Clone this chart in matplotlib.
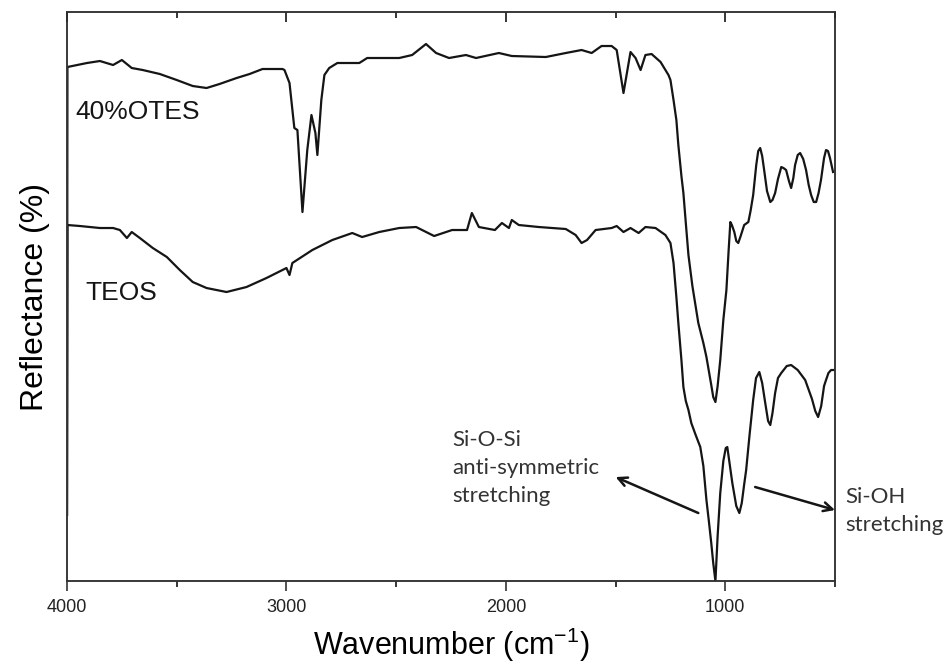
import numpy as np
import matplotlib.pyplot as plt

# ============================================================
# DATA
# ============================================================

otes_wn = [4000, 3998, 3909, 3850, 3790, 3750, 3705, 3655, 3577, 3500, 3427,
           3364, 3305, 3227, 3168, 3109, 3018, 3009, 2986, 2964, 2950, 2927,
           2905, 2886, 2868, 2859, 2841, 2827, 2805, 2768, 2668, 2632, 2532,
           2486, 2427, 2364, 2318, 2259, 2182, 2136, 2032, 1973, 1818, 1727,
           1655, 1609, 1564, 1518, 1495, 1464, 1432, 1409, 1386, 1364, 1336,
           1295, 1259, 1250, 1236, 1223, 1214, 1200, 1191, 1180, 1168, 1150,
           1123, 1100, 1086, 1064, 1055, 1045, 1035, 1023, 1009, 995, 985,
           977, 970, 959, 950, 941, 930, 914, 895, 885, 873, 859, 850, 841,
           832, 823, 810, 795, 785, 773, 760, 745, 735, 723, 710, 700, 690,
           682, 670, 659, 645, 632, 620, 609, 597, 586, 575, 564, 550, 541,
           532, 523, 509]
otes_refl = [6.6, 51.4, 51.8, 52.0, 51.6, 52.1, 51.3, 51.1, 50.7, 50.1, 49.5,
             49.3, 49.7, 50.3, 50.7, 51.2, 51.2, 51.1, 49.8, 45.3, 45.1, 36.9,
             43.1, 46.6, 44.8, 42.6, 48.1, 50.6, 51.3, 51.8, 51.8, 52.3, 52.3,
             52.3, 52.6, 53.7, 52.8, 52.3, 52.6, 52.3, 52.8, 52.5, 52.4, 52.8,
             53.1, 52.8, 53.5, 53.5, 53.1, 48.8, 52.9, 52.3, 51.1, 52.6, 52.7,
             51.9, 50.6, 50.1, 48.1, 46.1, 43.6, 40.5, 38.8, 35.8, 32.6, 29.5,
             25.8, 23.8, 22.4, 19.6, 18.4, 17.9, 19.5, 22.1, 26.1, 29.1, 33.0,
             35.9, 35.6, 34.9, 34.0, 33.8, 34.5, 35.6, 35.9, 37.0, 38.6, 41.6,
             43.0, 43.3, 42.5, 41.1, 39.0, 37.9, 38.1, 38.8, 40.2, 41.4, 41.3,
             41.1, 40.0, 39.3, 40.3, 41.6, 42.6, 42.8, 42.2, 41.1, 39.6, 38.6,
             37.9, 37.9, 38.8, 40.1, 42.3, 43.1, 43.0, 42.3, 40.9]

teos_wn = [4000, 3998, 3941, 3850, 3790, 3759, 3727, 3705, 3668, 3609, 3545,
           3486, 3427, 3364, 3273, 3182, 3091, 3000, 2986, 2973, 2882, 2791,
           2700, 2655, 2577, 2486, 2409, 2327, 2245, 2177, 2155, 2123, 2050,
           2018, 1986, 1973, 1941, 1850, 1727, 1682, 1655, 1630, 1591, 1518,
           1495, 1464, 1432, 1395, 1364, 1318, 1273, 1250, 1236, 1223, 1214,
           1200, 1191, 1180, 1168, 1155, 1135, 1114, 1100, 1086, 1075, 1064,
           1055, 1045, 1035, 1023, 1009, 998, 991, 982, 968, 950, 936, 925,
           915, 905, 890, 873, 860, 845, 832, 818, 805, 795, 785, 773, 760,
           745, 720, 700, 670, 636, 605, 590, 577, 563, 550, 541, 530, 518, 505]
teos_refl = [6.6, 35.6, 35.5, 35.3, 35.3, 35.1, 34.3, 34.9, 34.3, 33.3, 32.4,
             31.1, 29.9, 29.3, 28.9, 29.4, 30.3, 31.3, 30.6, 31.8, 33.1, 34.1,
             34.8, 34.4, 34.9, 35.3, 35.4, 34.5, 35.1, 35.1, 36.8, 35.4, 35.1,
             35.8, 35.3, 36.1, 35.6, 35.4, 35.2, 34.6, 33.8, 34.1, 35.1, 35.3,
             35.5, 34.9, 35.3, 34.8, 35.4, 35.3, 34.6, 33.8, 31.8, 28.4, 25.8,
             22.1, 19.4, 18.0, 17.1, 15.8, 14.6, 13.4, 11.5, 8.1, 6.0, 3.8,
             1.8, 0.0, 4.5, 8.8, 12.0, 13.3, 13.4, 12.0, 9.8, 7.5, 6.8, 7.8,
             9.5, 11.1, 14.5, 18.1, 20.3, 20.9, 19.8, 17.8, 16.0, 15.6, 16.8,
             18.8, 20.3, 20.8, 21.5, 21.6, 21.1, 20.1, 18.2, 17.0, 16.4, 17.5,
             19.5, 20.1, 20.8, 21.1, 21.1]

major_ticks = [4000, 3000, 2000, 1000]
minor_ticks = [3500, 2500, 1500, 500]

# ============================================================
# FIGURE
# ============================================================

plt.rcParams["font.family"] = ["Liberation Sans", "DejaVu Sans"]
plt.rcParams["mathtext.fontset"] = "custom"
plt.rcParams["mathtext.rm"] = "Liberation Sans"
plt.rcParams["mathtext.it"] = "Liberation Sans:italic"

fig = plt.figure(figsize=(9.49, 6.67), dpi=100)
ax = fig.add_axes([0.0706, 0.1289, 0.8093, 0.8531])

line_color = "#151515"

ax.plot(otes_wn, otes_refl, color=line_color, lw=1.6)
ax.plot(teos_wn, teos_refl, color=line_color, lw=1.6)

ax.set_xlim(4000, 500)
ax.set_ylim(0, 56.9)

ax.set_xticks(major_ticks)
ax.set_xticks(minor_ticks, minor=True)
ax.set_yticks([])

ax.tick_params(axis="x", which="major", direction="out", length=7,
               width=1.1, labelsize=13, colors="#222222", pad=6)
ax.tick_params(axis="x", which="minor", direction="out", length=4,
               width=1.1)

# top ticks point inward
top = ax.twiny()
top.set_xlim(ax.get_xlim())
top.set_xticks(major_ticks)
top.set_xticks(minor_ticks, minor=True)
top.tick_params(axis="x", which="major", direction="in", length=7,
                width=1.1, labeltop=False)
top.tick_params(axis="x", which="minor", direction="in", length=4,
                width=1.1)

for a in (ax, top):
    for sp in a.spines.values():
        sp.set_linewidth(1.1)
        sp.set_color("#333333")

ax.set_xlabel("Wavenumber (cm$^{-1}$)", fontsize=22, labelpad=7)
ax.set_ylabel("Reflectance (%)", fontsize=23, labelpad=12)

# ============================================================
# LABELS AND ANNOTATIONS
# ============================================================

ax.text(3964, 46.9, "40%OTES", fontsize=19, ha="left", va="center",
        color=line_color)
ax.text(3918, 28.8, "TEOS", fontsize=19, ha="left", va="center",
        color=line_color)

ann_font = ["Lato", "DejaVu Sans"]

ax.text(2246, 11.3, "Si-O-Si\nanti-symmetric\nstretching", fontsize=16,
        family=ann_font, ha="left", va="center", linespacing=1.5,
        color="#333333")
ax.text(455, 7.0, "Si-OH\nstretching", fontsize=16, family=ann_font,
        ha="left", va="center", linespacing=1.5, color="#333333")

arrow_style = dict(arrowstyle="->", color=line_color, lw=1.8,
                   mutation_scale=16, shrinkA=0, shrinkB=0)

ax.annotate("", xy=(1500, 10.4), xytext=(1123, 6.8),
            arrowprops=arrow_style)
ax.annotate("", xy=(500, 7.1), xytext=(864, 9.4),
            arrowprops=arrow_style, annotation_clip=False)

plt.savefig("out.png", dpi=100)
plt.close()
